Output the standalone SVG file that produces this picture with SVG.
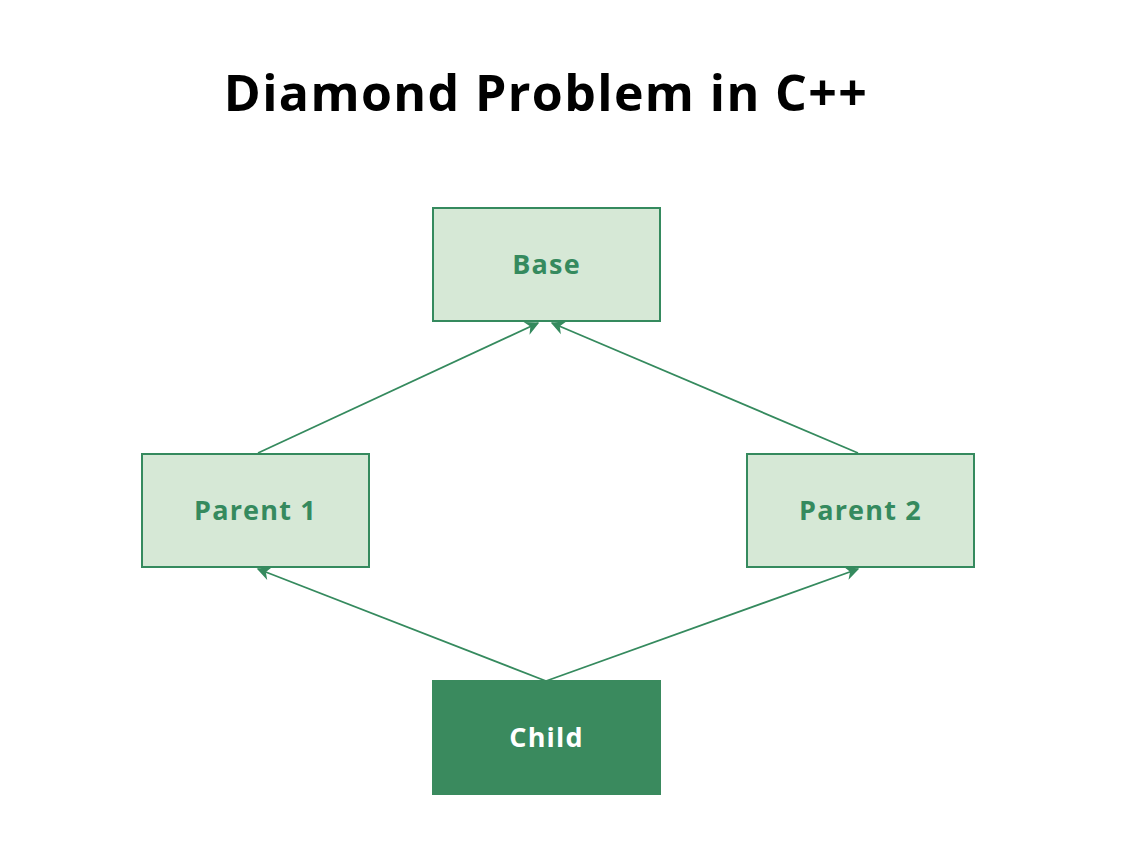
<svg xmlns="http://www.w3.org/2000/svg" width="1138" height="842" viewBox="0 0 1138 842">
<style>
.box{fill:#d6e8d6;stroke:#358a5e;stroke-width:2}
.dark{fill:#3a8a5e;stroke:#3a8a5e;stroke-width:2}
.lbl{font-family:"Open Sans","Liberation Sans",sans-serif;font-weight:700;font-size:27px;letter-spacing:1.2px;fill:#358a5e;text-anchor:middle;dominant-baseline:central}
.wl{fill:#ffffff}
.edge{stroke:#358a5e;stroke-width:1.8;fill:none;marker-end:url(#ah)}
.title{font-family:"Open Sans","Liberation Sans",sans-serif;font-weight:700;font-size:50px;letter-spacing:1.4px;fill:#000}
</style>
<defs>
<marker id="ah" viewBox="0 0 10 10" refX="9" refY="5" markerWidth="14" markerHeight="14" markerUnits="userSpaceOnUse" orient="auto" style="overflow:visible">
<path d="M0,0 L10,5 L0,10 L3,5 z" fill="#358a5e"/>
</marker>
</defs>
<rect width="1138" height="842" fill="#fff"/>
<text class="title" x="546" y="111" text-anchor="middle">Diamond Problem in C++</text>
<g id="connectors">
<line class="edge" x1="258" y1="453" x2="538" y2="323"/>
<line class="edge" x1="858" y1="453" x2="552" y2="323"/>
<line class="edge" x1="546" y1="681" x2="258" y2="569"/>
<line class="edge" x1="546" y1="681" x2="858" y2="569"/>
</g>
<g id="base">
<rect class="box" x="433" y="208" width="227" height="113"/>
<text class="lbl" x="546.5" y="263">Base</text>
</g>
<g id="parent1">
<rect class="box" x="142" y="454" width="227" height="113"/>
<text class="lbl" x="255.5" y="509">Parent 1</text>
</g>
<g id="parent2">
<rect class="box" x="747" y="454" width="227" height="113"/>
<text class="lbl" x="860.5" y="509">Parent 2</text>
</g>
<g id="child">
<rect class="dark" x="433" y="681" width="227" height="113"/>
<text class="lbl wl" x="546.5" y="736">Child</text>
</g>
</svg>
